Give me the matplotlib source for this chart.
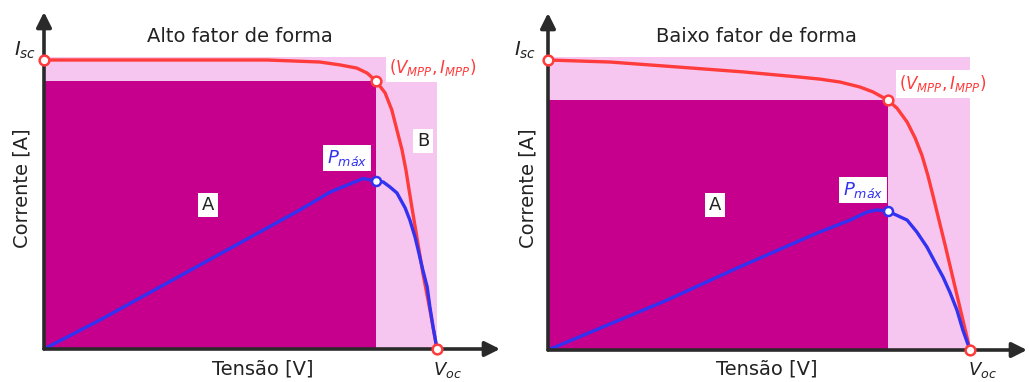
import matplotlib
matplotlib.use("Agg")
import matplotlib.pyplot as plt
from matplotlib.patches import Rectangle

# ---------------- data (normalised: V / Voc, I / Isc) ----------------
# High fill factor cell
hi_iv_v = [0.0, 0.397, 0.567, 0.626, 0.702, 0.753, 0.796, 0.822, 0.845, 0.868, 0.885,
           0.898, 0.911, 0.921, 0.929, 0.936, 0.964, 0.982, 1.0]
hi_iv_i = [1.0, 1.0, 1.0, 0.997, 0.993, 0.983, 0.972, 0.955, 0.927, 0.886, 0.827,
           0.758, 0.689, 0.619, 0.550, 0.491, 0.263, 0.135, 0.0]
hi_p_v = [0.0, 0.142, 0.397, 0.651, 0.728, 0.771, 0.812, 0.845, 0.863, 0.880, 0.898,
          0.919, 0.931, 0.944, 0.952, 0.964, 0.975, 0.982, 0.990, 1.0]
hi_p = [0.0, 0.100, 0.291, 0.481, 0.543, 0.567, 0.590, 0.581, 0.578, 0.561, 0.540,
        0.488, 0.446, 0.388, 0.343, 0.273, 0.215, 0.145, 0.076, 0.0]
hi_vmpp, hi_impp, hi_pmax = 0.845, 0.929, 0.581

# Low fill factor cell
lo_iv_v = [0.0, 0.147, 0.306, 0.462, 0.597, 0.645, 0.692, 0.739, 0.770, 0.805, 0.827,
           0.851, 0.870, 0.886, 0.900, 0.912, 0.941, 0.969, 1.0]
lo_iv_i = [1.0, 0.993, 0.976, 0.959, 0.941, 0.934, 0.924, 0.907, 0.890, 0.862, 0.834,
           0.786, 0.731, 0.672, 0.603, 0.534, 0.362, 0.190, 0.0]
lo_p_v = [0.0, 0.282, 0.438, 0.557, 0.637, 0.716, 0.756, 0.780, 0.805, 0.851, 0.874,
          0.898, 0.917, 0.936, 0.953, 0.969, 0.983, 1.0]
lo_p = [0.0, 0.172, 0.276, 0.352, 0.403, 0.448, 0.476, 0.483, 0.479, 0.448, 0.407,
        0.355, 0.303, 0.252, 0.197, 0.138, 0.069, 0.0]
lo_vmpp, lo_impp, lo_pmax = 0.805, 0.862, 0.479

titles = ["Alto fator de forma", "Baixo fator de forma"]
xlabel = "Tensão [V]"
ylabel = "Corrente [A]"

# ---------------- style ----------------
W, H = 1029, 382
DARK = "#C6008C"
LIGHT = "#F6C6F0"
RED = "#FF3B3B"
BLUE = "#3232F0"
AXIS = "#2A2A2A"
INK = "#222222"

plt.rcParams["font.family"] = ["DejaVu Sans"]
plt.rcParams["mathtext.fontset"] = "dejavusans"

fig = plt.figure(figsize=(W / 100, H / 100), dpi=100)
fig.patch.set_facecolor("white")


def fx(x):
    return x / W


def fy(y):
    return 1 - y / H


def panel(x0, y0, x_voc, y_isc, x_end, y_top):
    """Axes whose origin sits at pixel (x0, y0), with Voc at x_voc and Isc at y_isc."""
    ax = fig.add_axes([fx(x0), fy(y0), (x_end - x0) / W, (y0 - y_top) / H])
    ax.set_xlim(0, (x_end - x0) / (x_voc - x0))
    ax.set_ylim(0, (y0 - y_top) / (y0 - y_isc))
    ax.set_axis_off()
    return ax


def draw(ax, iv_v, iv_i, p_v, p, vmpp, impp, pmax):
    ax.add_patch(Rectangle((0, 0), 1.0, 1.01, facecolor=LIGHT, edgecolor="none", zorder=1))
    ax.add_patch(Rectangle((0, 0), vmpp, impp, facecolor=DARK, edgecolor="none", zorder=2))
    line = dict(lw=2.4, zorder=4, solid_capstyle="round", solid_joinstyle="round")
    ax.plot(iv_v, iv_i, color=RED, **line)
    ax.plot(p_v, p, color=BLUE, **line)
    mk = dict(marker="o", ms=7, mfc="white", mew=1.8, ls="none", zorder=6, clip_on=False)
    ax.plot([0, vmpp, 1.0], [1.0, impp, 0.0], mec=RED, **mk)
    ax.plot([vmpp], [pmax], mec=BLUE, **dict(mk, ms=6.5))
    # axes drawn as arrows
    arrow = dict(arrowstyle="-|>,head_length=0.9,head_width=0.45", color=AXIS, lw=2.6,
                 shrinkA=0, shrinkB=0)
    ax.annotate("", xy=(1, 0), xytext=(0, 0), xycoords="axes fraction",
                textcoords="axes fraction", arrowprops=arrow, zorder=5)
    ax.annotate("", xy=(0, 1), xytext=(0, 0), xycoords="axes fraction",
                textcoords="axes fraction", arrowprops=arrow, zorder=5)


def box_text(x, y, s, color=INK, size=13, **kw):
    fig.text(fx(x), fy(y), s, ha="center", va="center", color=color, fontsize=size,
             bbox=dict(facecolor="white", edgecolor="none", pad=2.5), zorder=10, **kw)


# ---------------- panels ----------------
axl = panel(44, 349, 437, 60, 500, 12)
draw(axl, hi_iv_v, hi_iv_i, hi_p_v, hi_p, hi_vmpp, hi_impp, hi_pmax)

axr = panel(548, 350, 970, 60, 1027, 13)
draw(axr, lo_iv_v, lo_iv_i, lo_p_v, lo_p, lo_vmpp, lo_impp, lo_pmax)

# ---------------- text ----------------
for cx, title in [(240, titles[0]), (756, titles[1])]:
    fig.text(fx(cx), fy(36), title, ha="center", va="center", fontsize=14, color=INK)

for cx in (22, 528):
    fig.text(fx(cx), fy(188), ylabel, ha="center", va="center", rotation=90,
             fontsize=14, color=INK)
for cx in (263, 767):
    fig.text(fx(cx), fy(369), xlabel, ha="center", va="center", fontsize=14, color=INK)

for cx in (25, 525):
    fig.text(fx(cx), fy(50), r"$I_{sc}$", ha="center", va="center", fontsize=14, color=INK)
for cx in (447, 982):
    fig.text(fx(cx), fy(370), r"$V_{oc}$", ha="center", va="center", fontsize=13, color=INK)

mpp_label = r"$(V_{MPP},I_{MPP})$"
box_text(433, 68, mpp_label, color=RED, size=12)
box_text(943, 84, mpp_label, color=RED, size=12)

box_text(423, 141, "B")
box_text(208, 205, "A")
box_text(715, 205, "A")

pmax_label = r"$P_{\mathit{máx}}$"
box_text(347, 158, pmax_label, color=BLUE, size=13)
box_text(863, 190, pmax_label, color=BLUE, size=13)

fig.savefig("out.png", dpi=100, facecolor="white")
